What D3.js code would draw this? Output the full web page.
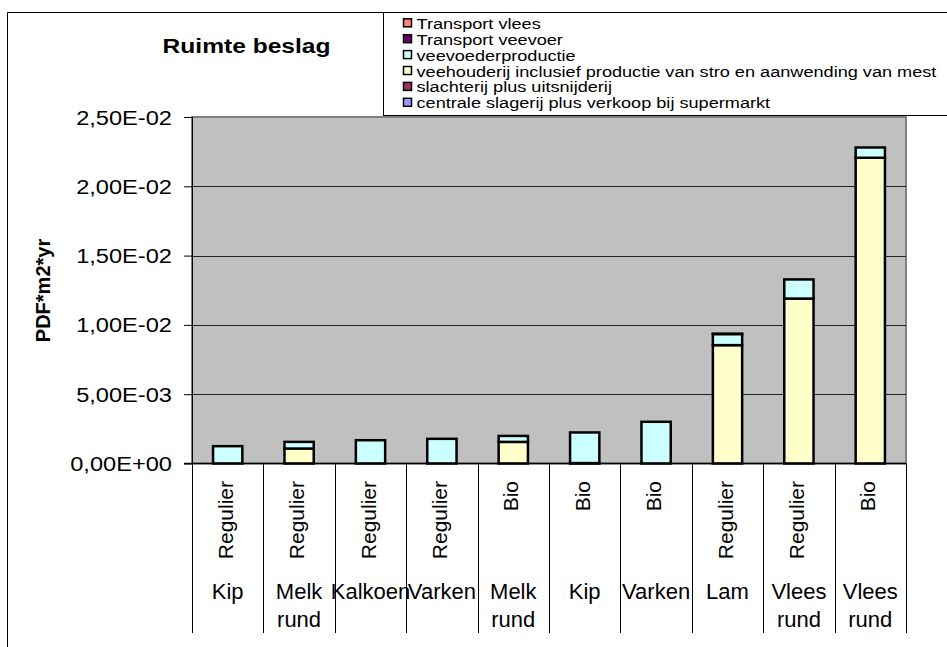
<!DOCTYPE html>
<meta charset="utf-8">
<style>
body { margin: 0; background: #fff; }
text { font-family: "Liberation Sans", Arial, sans-serif; fill: #000; }
</style>
<svg width="947" height="647"></svg>
<script src="https://d3js.org/d3.v7.min.js"></script>
<script>
// categories (bottom row = product, top row = production type)
var products = ["Kip", "Melk rund", "Kalkoen", "Varken", "Melk rund", "Kip", "Varken", "Lam", "Vlees rund", "Vlees rund"];
var types = ["Regulier", "Regulier", "Regulier", "Regulier", "Bio", "Bio", "Bio", "Regulier", "Regulier", "Bio"];

// series, stacked bottom -> top
var seriesNames = ["centrale slagerij plus verkoop bij supermarkt", "slachterij plus uitsnijderij",
	"veehouderij inclusief productie van stro en aanwending van mest", "veevoederproductie",
	"Transport veevoer", "Transport vlees"];
var seriesColors = ["#9999ff", "#993366", "#ffffcc", "#ccffff", "#660066", "#ff8080"];
var slagerij = [0, 0, 0, 0, 0, 0, 0, 0, 0, 0];
var slachterij = [0, 0, 0, 0, 0, 0, 0, 0, 0, 0];
var veehouderij = [0, 0.00108, 0, 0, 0.00156, 0.00003, 0, 0.00854, 0.0119, 0.02206];
var veevoeder = [0.00125, 0.00048, 0.00168, 0.00178, 0.00043, 0.00221, 0.00301, 0.0008, 0.00138, 0.00074];
var transportVeevoer = [0, 0, 0, 0, 0, 0, 0, 0.00002, 0, 0];
var transportVlees = [0, 0, 0, 0, 0, 0, 0, 0, 0, 0];
var seriesValues = [slagerij, slachterij, veehouderij, veevoeder, transportVeevoer, transportVlees];

var yTicks = [0, 0.005, 0.01, 0.015, 0.02, 0.025];

var svg = d3.select("svg");
var plotLeft = 192, plotRight = 906, plotTop = 117, plotBottom = 463.5;

var x = d3.scaleBand()
	.domain(d3.range(products.length))
	.range([plotLeft, plotRight])
	.paddingInner(0.59)
	.paddingOuter(0.295);
var band = d3.scaleBand().domain(d3.range(products.length)).range([plotLeft, plotRight]);
var y = d3.scaleLinear().domain([0, 0.025]).range([plotBottom, plotTop]);

function sci(v) {
	if (v === 0) return "0,00E+00";
	var e = Math.floor(Math.log10(v) + 1e-9);
	var m = v / Math.pow(10, e);
	return m.toFixed(2).replace(".", ",") + "E" + (e < 0 ? "-" : "+") + (Math.abs(e) < 10 ? "0" : "") + Math.abs(e);
}

// outer frame (only top and left edges are in view)
svg.append("line").attr("x1", 7.5).attr("x2", 947).attr("y1", 12.5).attr("y2", 12.5).style("stroke", "#000");
svg.append("line").attr("x1", 7.5).attr("x2", 7.5).attr("y1", 12.5).attr("y2", 647).style("stroke", "#000");

// plot area
svg.append("rect")
	.attr("x", plotLeft).attr("y", plotTop)
	.attr("width", plotRight - plotLeft).attr("height", plotBottom - plotTop)
	.style("fill", "#c0c0c0")
	.style("stroke", "#808080")
	.style("stroke-width", 2);

// gridlines
svg.append("g").selectAll("line")
	.data(yTicks.slice(1, -1))
	.enter().append("line")
	.attr("x1", plotLeft).attr("x2", plotRight)
	.attr("y1", function(d) { return Math.round(y(d)) + 0.5; })
	.attr("y2", function(d) { return Math.round(y(d)) + 0.5; })
	.style("stroke", "#222")
	.style("stroke-width", 1);

// stacked bars
var stackData = products.map(function(p, i) {
	var row = {};
	seriesNames.forEach(function(s, k) { row[s] = seriesValues[k][i]; });
	return row;
});
var stacked = d3.stack().keys(seriesNames)(stackData);

svg.append("g").selectAll("g")
	.data(stacked)
	.enter().append("g")
	.style("fill", function(d, k) { return seriesColors[k]; })
	.selectAll("rect")
	.data(function(d) { return d.map(function(v, i) { return {v: v, i: i}; }).filter(function(o) { return o.v[1] - o.v[0] > 0; }); })
	.enter().append("rect")
	.attr("x", function(d) { return x(d.i); })
	.attr("width", x.bandwidth())
	.attr("y", function(d) { return y(d.v[1]); })
	.attr("height", function(d) { return y(d.v[0]) - y(d.v[1]); })
	.style("stroke", "#000")
	.style("stroke-width", 2.5);

// y axis (ticks from d3, labels drawn below)
var yAxis = svg.append("g")
	.attr("transform", "translate(" + plotLeft + ",0)")
	.call(d3.axisLeft(y).tickValues(yTicks).tickSize(8).tickFormat(""));
yAxis.select(".domain").style("stroke", "#000").attr("d", "M0.5," + plotTop + "V" + plotBottom);
yAxis.selectAll(".tick line").style("stroke", "#000");

svg.append("g").selectAll("text")
	.data(yTicks)
	.enter().append("text")
	.attr("transform", function(d) { return "translate(172," + (y(d) + 7.5) + ") scale(1.125,1)"; })
	.style("font-size", "21px")
	.style("text-anchor", "end")
	.text(sci);

// x axis line and category dividers
svg.append("line")
	.attr("x1", plotLeft - 8).attr("x2", plotRight)
	.attr("y1", plotBottom).attr("y2", plotBottom)
	.style("stroke", "#000").style("stroke-width", 1.5);
svg.append("g").selectAll("line")
	.data(d3.range(products.length + 1))
	.enter().append("line")
	.attr("x1", function(i) { return Math.round(plotLeft + i * band.bandwidth()) + 0.5; })
	.attr("x2", function(i) { return Math.round(plotLeft + i * band.bandwidth()) + 0.5; })
	.attr("y1", plotBottom).attr("y2", 633)
	.style("stroke", "#000");

// rotated type labels
svg.append("g").selectAll("text")
	.data(types)
	.enter().append("text")
	.attr("transform", function(d, i) {
		return "translate(" + (band(i) + band.bandwidth() / 2 + 5) + ",481) rotate(-90)";
	})
	.style("text-anchor", "end")
	.style("font-size", "21px")
	.text(function(d) { return d; });

// product labels, wrapped on spaces
var prod = svg.append("g").selectAll("text")
	.data(products)
	.enter().append("text")
	.attr("x", function(d, i) { return band(i) + band.bandwidth() / 2; })
	.attr("y", 599)
	.style("text-anchor", "middle")
	.style("font-size", "22px");
prod.selectAll("tspan")
	.data(function(d) { return d.split(" "); })
	.enter().append("tspan")
	.attr("x", function() { return d3.select(this.parentNode).attr("x"); })
	.attr("dy", function(d, j) { return j === 0 ? 0 : 27.5; })
	.text(function(d) { return d; });

// title
svg.append("text")
	.attr("transform", "translate(246.5,53) scale(1.17,1)")
	.style("text-anchor", "middle")
	.style("font-size", "21px")
	.style("font-weight", "bold")
	.text("Ruimte beslag");

// y axis title
svg.append("text")
	.attr("transform", "translate(50,290.5) rotate(-90)")
	.style("text-anchor", "middle")
	.style("font-size", "20px")
	.style("font-weight", "bold")
	.text("PDF*m2*yr");

// legend
var legend = svg.append("g");
legend.append("rect")
	.attr("x", 383.5).attr("y", 12.5)
	.attr("width", 600).attr("height", 103)
	.style("fill", "#fff")
	.style("stroke", "#000");
var legendOrder = d3.range(seriesNames.length).reverse();
var item = legend.selectAll(".item")
	.data(legendOrder)
	.enter().append("g")
	.attr("class", "item")
	.attr("transform", function(k, r) { return "translate(0," + (23.3 + r * 15.9) + ")"; });
item.append("rect")
	.attr("x", 403.5).attr("y", -4.5)
	.attr("width", 8).attr("height", 8)
	.style("fill", function(k) { return seriesColors[k]; })
	.style("stroke", "#000")
	.style("stroke-width", 1.5);
item.append("text")
	.attr("transform", "translate(416.5,5.5) scale(1.17,1)")
	.style("font-size", "15.5px")
	.text(function(k) { return seriesNames[k]; });
</script>
